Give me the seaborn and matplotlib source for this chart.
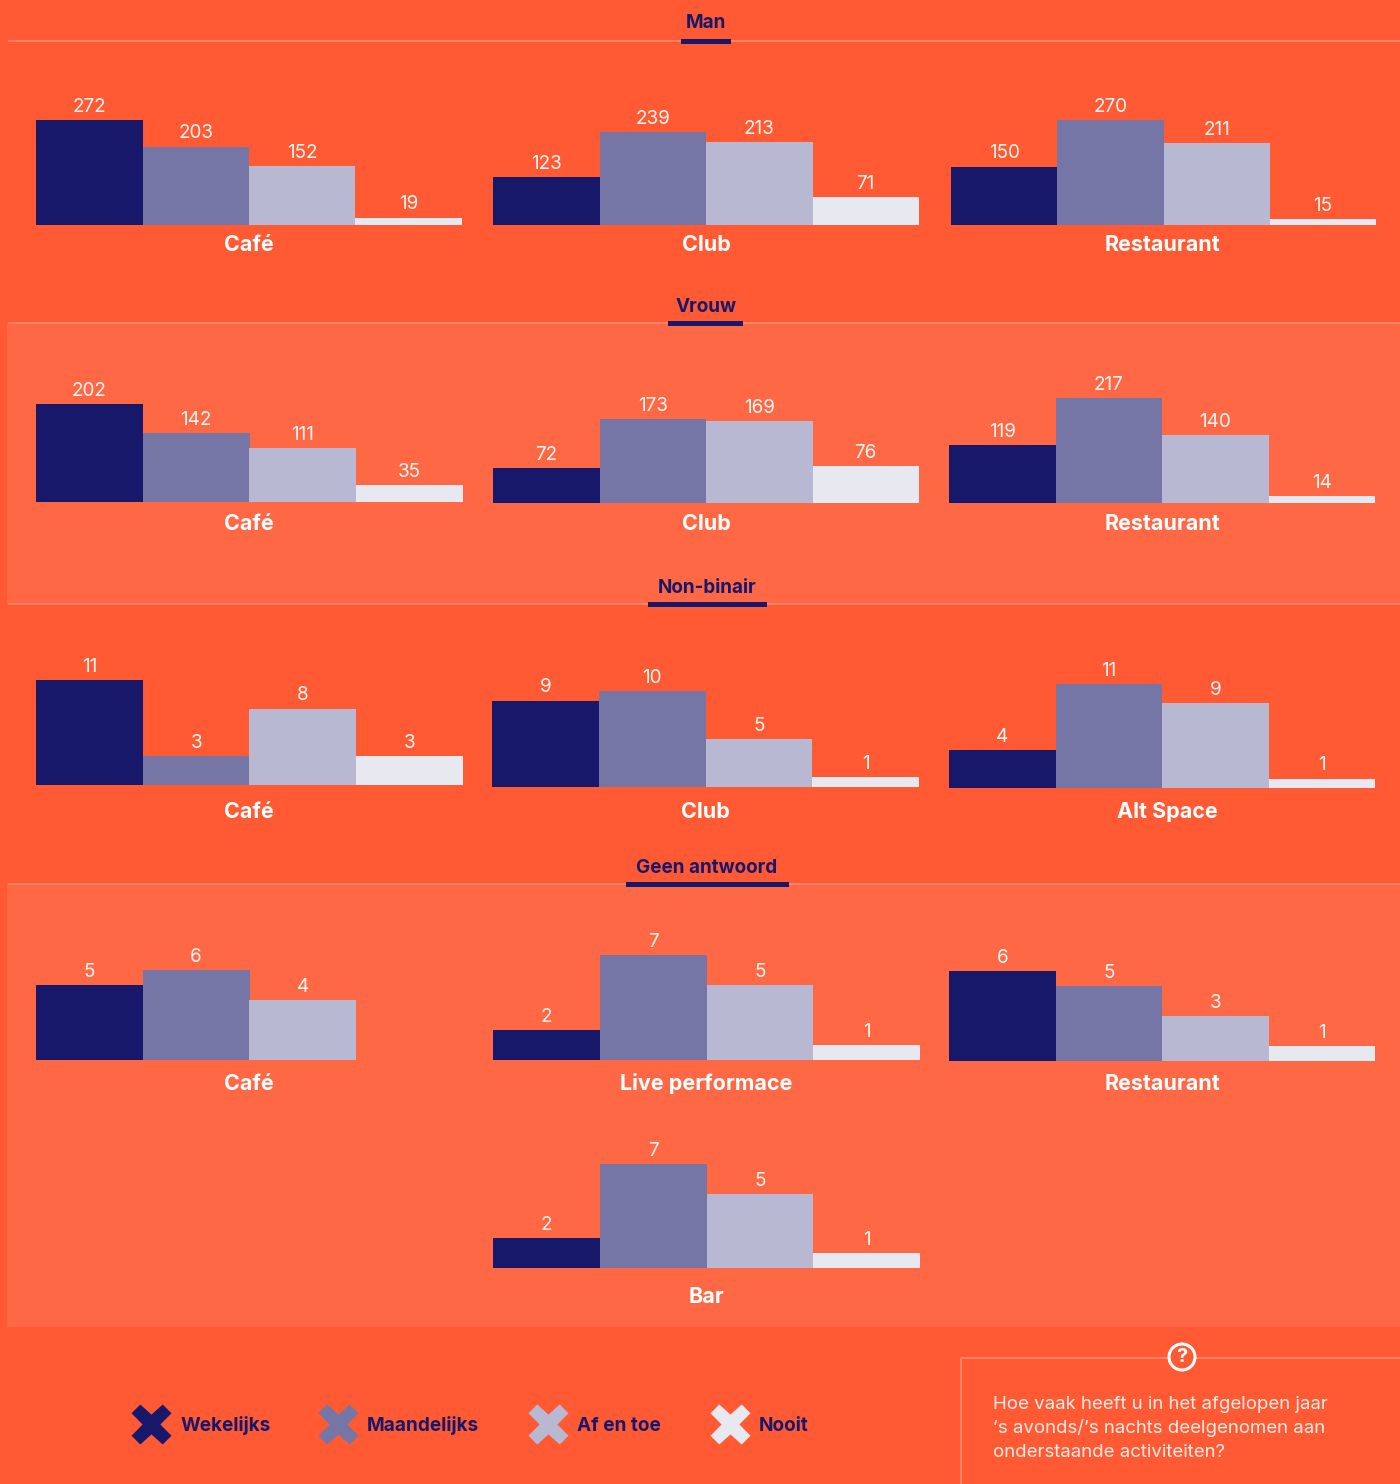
import numpy as np
import pandas as pd
import seaborn as sns
import matplotlib.pyplot as plt
from matplotlib.patches import Rectangle, Circle

W, H = 1400, 1484

sns.set_theme(style="white")
plt.rcParams['font.family'] = ['Inter', 'DejaVu Sans']

# --- DATA ---
FREQ = ["Wekelijks", "Maandelijks", "Af en toe", "Nooit"]
COLORS = ["#18186B", "#7676A6", "#B8B8D3", "#E8E8F0"]

man_cats = ["Café", "Club", "Restaurant"]
man_vals = [[272, 203, 152, 19], [123, 239, 213, 71], [150, 270, 211, 15]]
vrouw_cats = ["Café", "Club", "Restaurant"]
vrouw_vals = [[202, 142, 111, 35], [72, 173, 169, 76], [119, 217, 140, 14]]
nb_cats = ["Café", "Club", "Alt Space"]
nb_vals = [[11, 3, 8, 3], [9, 10, 5, 1], [4, 11, 9, 1]]
geen_cats = ["Café", "Live performace", "Restaurant", "Bar"]
geen_vals = [[5, 6, 4, None], [2, 7, 5, 1], [6, 5, 3, 1], [2, 7, 5, 1]]

QUESTION = ["Hoe vaak heeft u in het afgelopen jaar",
            "’s avonds/’s nachts deelgenomen aan",
            "onderstaande activiteiten?"]

# --- LAYOUT (pixels) : left, right, baseline, top of tallest bar, label x, label y ---
man_box = [(36, 462, 225, 120, 249, 245), (493, 919, 225, 132, 706, 245), (951, 1376, 225, 120, 1162, 245)]
vrouw_box = [(36, 463, 502, 404, 249, 524), (493, 919, 503, 419, 706, 524), (949, 1375, 503, 398, 1162, 524)]
nb_box = [(36, 463, 785, 680, 249, 812), (492, 919, 787, 691, 705, 812), (949, 1375, 788, 684, 1167, 812)]
geen_box = [(36, 463, 1060, 970, 249, 1084), (493, 920, 1060, 955, 706, 1084),
            (949, 1375, 1061, 971, 1162, 1084), (493, 920, 1268, 1164, 706, 1297)]

# title, centre x, title baseline y, rule y, underline left/right
SECTIONS = [("Man", 706, 28, 41, 681, 731), ("Vrouw", 706, 312, 323, 668, 743),
            ("Non-binair", 707, 593, 604, 648, 767), ("Geen antwoord", 707, 873, 884, 626, 789)]

LEGEND_X = [151, 338, 548, 730]
LEGEND_TX = [181, 367, 577, 759]

BG = "#FF5A33"
BAND = "#FF6845"
RULE = "#FF8467"
NAVY = "#18186B"

X_MARK = [(-11, 19.6), (0, 9.7), (11, 19.6), (19.6, 11), (8.7, 0), (19.6, -11), (11, -19.6),
          (0, -9.7), (-11, -19.6), (-19.6, -11), (-8.7, 0), (-19.6, 11), (-11, 19.6)]

fig = plt.figure(figsize=(W / 100, H / 100), dpi=100, facecolor=BG)

# overlay in pixel coordinates for the bands, rules and texts
bg = fig.add_axes([0, 0, 1, 1], zorder=0)
bg.set_xlim(0, W)
bg.set_ylim(H, 0)
bg.axis('off')

bg.add_patch(Rectangle((7, 323), W - 7, 281, fc=BAND, ec='none'))
bg.add_patch(Rectangle((7, 884), W - 7, 443, fc=BAND, ec='none'))

for title, cx, ty, ry, ul, ur in SECTIONS:
    bg.plot([8, W], [ry, ry], color=RULE, lw=1.4, solid_capstyle='butt')
    bg.add_patch(Rectangle((ul, ry - 2.5), ur - ul, 5, fc=NAVY, ec='none', zorder=3))
    bg.text(cx, ty, title, color=NAVY, fontsize=13.6, fontweight='bold', ha='center', va='baseline')


def draw_panel(values, box, cat):
    l, r, base, top, lx, ly = box
    ax = fig.add_axes([l / W, 1 - base / H, (r - l) / W, (base - top) / H], zorder=2)
    ax.patch.set_alpha(0)
    df = pd.DataFrame({"freq": FREQ, "n": values}).dropna()
    sns.barplot(data=df, x="freq", y="n", hue="freq", order=FREQ, hue_order=FREQ,
                palette=COLORS, saturation=1, width=1, dodge=False, legend=False,
                linewidth=0, ax=ax)
    ax.set_xlim(-0.5, 3.5)
    ax.set_ylim(0, max(v for v in values if v is not None))
    for c in ax.containers:
        if len(c):
            ax.bar_label(c, fmt='%d', color='#FFF6F2', fontsize=13.6, padding=3, clip_on=False)
    ax.axis('off')
    bg.text(lx, ly, cat, color='white', fontsize=15.5, fontweight='bold', ha='center', va='center')


for cats, vals, boxes in [(man_cats, man_vals, man_box), (vrouw_cats, vrouw_vals, vrouw_box),
                          (nb_cats, nb_vals, nb_box), (geen_cats, geen_vals, geen_box)]:
    for cat, v, b in zip(cats, vals, boxes):
        draw_panel(v, b, cat)

# legend
for name, col, mx, tx in zip(FREQ, COLORS, LEGEND_X, LEGEND_TX):
    bg.scatter([mx], [1424], marker=X_MARK, s=830, color=col, linewidths=0)
    bg.text(tx, 1431, name, color=NAVY, fontsize=13.7, fontweight='bold', ha='left', va='baseline')

# question box
bg.plot([961, 961, W], [H, 1357.5, 1357.5], color=RULE, lw=1.4)
bg.add_patch(Circle((1182, 1357), 13, fc=BG, ec='white', lw=2.2, zorder=3))
bg.text(1182, 1357, "?", color='white', fontsize=14.5, fontweight='bold', ha='center', va='center', zorder=4)
for i, line in enumerate(QUESTION):
    bg.text(993, 1409 + i * 24, line, color='#FFEDE8', fontsize=13.4, ha='left', va='baseline')

plt.savefig("out.png", dpi=100, facecolor=BG)
plt.close()
